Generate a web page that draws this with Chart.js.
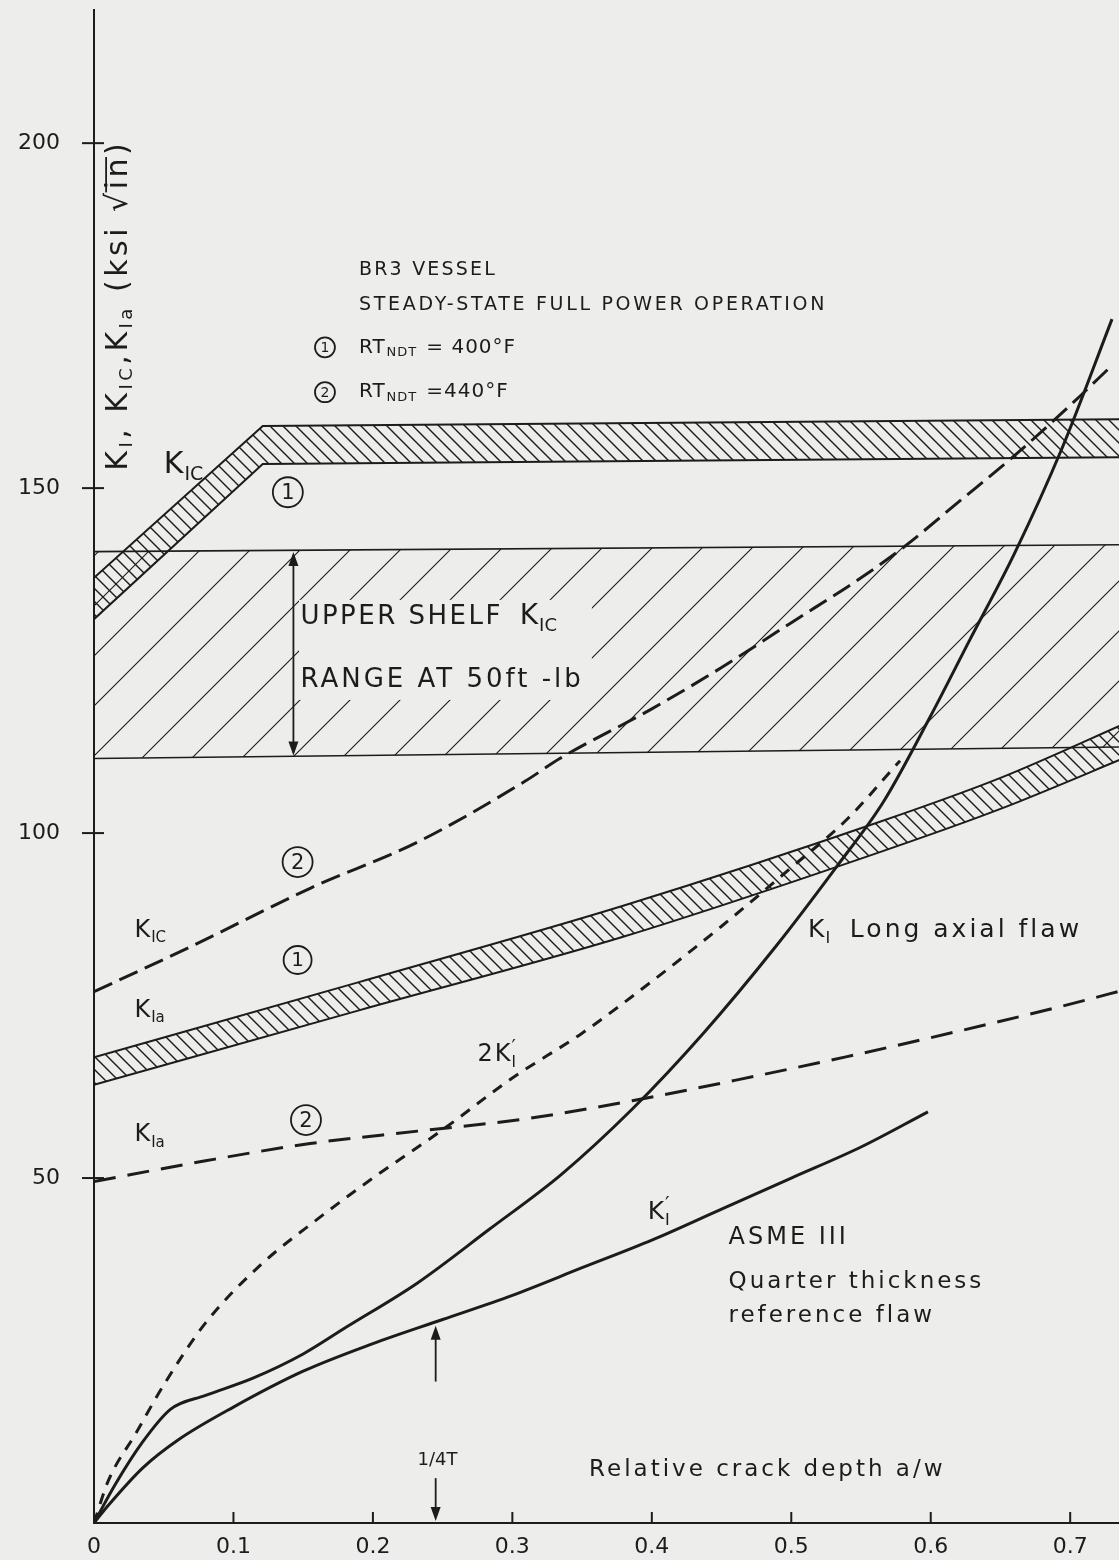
<!DOCTYPE html>
<html>
<head>
<meta charset="utf-8">
<script src="https://cdn.jsdelivr.net/npm/chart.js@4.4.0/dist/chart.umd.min.js"></script>
<style>
  body { margin: 0; background: #ededeb; }
</style>
</head>
<body>
<canvas id="fracture" width="1119" height="1560"></canvas>
<script>
// BR3 vessel, steady-state full power: K vs relative crack depth a/w

const xTicks = [0, 0.1, 0.2, 0.3, 0.4, 0.5, 0.6, 0.7];
const yTicks = [50, 100, 150, 200];

// upper shelf K_IC range at 50 ft-lb
const shelfX = [0, 0.745];
const shelfTop = [140.8, 141.8];
const shelfBottom = [110.8, 112.5];

// K_IC band, (1) RT_NDT = 400 F
const kic1X = [0, 0.121, 0.745];
const kic1Top = [137, 159, 160];
const kic1Bottom = [131, 153.5, 154.5];

// K_Ia band, (1) RT_NDT = 400 F
const kia1X = [0, 0.19, 0.38, 0.563, 0.65, 0.745];
const kia1Top = [67.5, 78.4, 89.5, 101.6, 108, 116.4];
const kia1Bottom = [63.5, 74.3, 85, 97.2, 103.5, 111.4];

// K_IC, (2) RT_NDT = 440 F
const kic2X = [0, 0.07, 0.155, 0.232, 0.309, 0.334, 0.4, 0.45, 0.5, 0.55, 0.581, 0.62, 0.66, 0.7, 0.73];
const kic2Y = [77, 83.6, 92, 98.7, 107.5, 110.8, 118, 124, 130.5, 137, 141.5, 148, 154.7, 162, 167.8];

// K_Ia, (2) RT_NDT = 440 F
const kia2X = [0, 0.08, 0.155, 0.232, 0.31, 0.386, 0.463, 0.54, 0.616, 0.694, 0.745];
const kia2Y = [49.5, 52.5, 55, 56.8, 58.6, 61.2, 64.3, 67.6, 71.1, 74.9, 77.6];

// K_I long axial flaw
const kiX = [0, 0.015, 0.034, 0.055, 0.08, 0.114, 0.15, 0.181, 0.232, 0.283, 0.335, 0.386, 0.437, 0.489, 0.532, 0.566, 0.6, 0.628, 0.66, 0.694, 0.73];
const kiY = [0, 5.5, 11.5, 16.5, 18.5, 21, 24.5, 28.4, 34.8, 42.5, 50.5, 60, 71, 83.6, 95, 104.5, 117, 128, 140.5, 155.7, 174.5];

// K'_I ASME III quarter thickness reference flaw
const kipX = [0, 0.01, 0.035, 0.06, 0.1, 0.15, 0.2, 0.25, 0.3, 0.35, 0.4, 0.45, 0.5, 0.55, 0.598];
const kipY = [0, 2.5, 8, 12, 16.8, 22, 26, 29.5, 33, 37, 41, 45.5, 50, 54.5, 59.6];

// 2K'_I
const twoKipX = [0, 0.01, 0.03, 0.05, 0.08, 0.12, 0.16, 0.2, 0.25, 0.3, 0.35, 0.4, 0.45, 0.5, 0.54, 0.578];
const twoKipY = [0, 6, 13, 20, 29, 37.5, 44, 50, 57, 64.5, 71, 78.5, 86.5, 95, 102, 110.5];

const paper = '#ededeb';
const ink = '#1c1c1c';
const face = '"DejaVu Sans", sans-serif';

function hatch(size, dir, width) {
    const c = document.createElement('canvas');
    c.width = c.height = size;
    const g = c.getContext('2d');
    g.strokeStyle = ink;
    g.lineWidth = width;
    g.beginPath();
    if (dir > 0) {
        g.moveTo(-1, size + 1); g.lineTo(size + 1, -1);
        g.moveTo(-2, 2); g.lineTo(2, -2);
        g.moveTo(size - 2, size + 2); g.lineTo(size + 2, size - 2);
    } else {
        g.moveTo(-1, -1); g.lineTo(size + 1, size + 1);
        g.moveTo(size - 2, -2); g.lineTo(size + 2, 2);
        g.moveTo(-2, size - 2); g.lineTo(2, size + 2);
    }
    g.stroke();
    return g.createPattern(c, 'repeat');
}

function line(xs, ys, extra) {
    return Object.assign({
        data: xs.map((x, i) => ({ x: x, y: ys[i] })),
        borderColor: ink,
        borderWidth: 2,
        pointRadius: 0,
        fill: false,
        tension: 0
    }, extra);
}

const curve = { borderWidth: 3, tension: 0.4, cubicInterpolationMode: 'monotone' };

function at(chart, a, k) {
    return [chart.scales.x.getPixelForValue(a), chart.scales.y.getPixelForValue(k)];
}

function kText(c, x, y, sub, size, lead, prime) {
    c.textAlign = 'left';
    c.textBaseline = 'middle';
    c.font = size + 'px ' + face;
    if (lead) {
        c.fillText(lead, x, y);
        x += c.measureText(lead).width + 2;
    }
    c.fillText('K', x, y);
    x += c.measureText('K').width;
    if (prime) {
        c.font = Math.round(size * 0.8) + 'px ' + face;
        c.fillText('\u2032', x + 1, y - size * 0.3);
    }
    c.font = Math.round(size * 0.64) + 'px ' + face;
    c.fillText(sub, x + 1, y + size * 0.34);
    return x + c.measureText(sub).width + 2;
}

function plain(c, s, x, y, size, spacing) {
    c.textAlign = 'left';
    c.textBaseline = 'middle';
    c.font = size + 'px ' + face;
    c.letterSpacing = (spacing || 0) + 'px';
    c.fillText(s, x, y);
    const w = c.measureText(s).width;
    c.letterSpacing = '0px';
    return x + w;
}

function circled(c, n, x, y, r) {
    c.beginPath();
    c.lineWidth = 1.8;
    c.arc(x, y, r, 0, Math.PI * 2);
    c.stroke();
    c.textAlign = 'center';
    c.textBaseline = 'middle';
    c.font = Math.round(r * 1.4) + 'px ' + face;
    c.fillText(n, x, y + 1);
}

function arrowHead(c, x, y, dir) {
    c.beginPath();
    c.moveTo(x, y);
    c.lineTo(x - 5, y - dir * 14);
    c.lineTo(x + 5, y - dir * 14);
    c.closePath();
    c.fill();
}

function rtLine(c, n, a, k, value) {
    const [x, y] = at(c.chart, a, k);
    circled(c, n, x - 34, y, 10);
    c.textAlign = 'left';
    c.font = '20px ' + face;
    c.letterSpacing = '1px';
    c.fillText('RT', x, y);
    let w = c.measureText('RT').width;
    c.font = '13px ' + face;
    c.fillText('NDT', x + w + 1, y + 5);
    w += c.measureText('NDT').width + 10;
    c.font = '20px ' + face;
    c.fillText(value, x + w, y);
    c.letterSpacing = '0px';
}

const paperPlugin = {
    id: 'paper',
    beforeDraw(chart) {
        const c = chart.ctx;
        c.save();
        c.fillStyle = paper;
        c.fillRect(0, 0, chart.width, chart.height);
        c.restore();
    },
    afterDatasetsDraw(chart) {
        // the shelf hatching is left open around its caption
        const c = chart.ctx;
        const [x0, y0] = at(chart, 0.147, 133.8);
        const [x1, y1] = at(chart, 0.357, 119.3);
        c.save();
        c.fillStyle = paper;
        c.fillRect(x0, y0, x1 - x0, y1 - y0);
        c.restore();
    },
    afterDraw(chart) {
        const c = chart.ctx;
        c.chart = chart;
        const area = chart.chartArea;
        c.save();
        c.strokeStyle = ink;
        c.fillStyle = ink;
        c.lineWidth = 2;

        // tick marks: crosses on y, inward on x
        yTicks.forEach(v => {
            const y = chart.scales.y.getPixelForValue(v);
            c.beginPath(); c.moveTo(area.left - 12, y); c.lineTo(area.left + 10, y); c.stroke();
        });
        xTicks.slice(1).forEach(v => {
            const x = chart.scales.x.getPixelForValue(v);
            c.beginPath(); c.moveTo(x, area.bottom); c.lineTo(x, area.bottom - 11); c.stroke();
        });

        // double arrow across the upper shelf range
        let [ax, top] = at(chart, 0.143, 140.9);
        let bottom = chart.scales.y.getPixelForValue(111.1);
        c.lineWidth = 1.8;
        c.beginPath(); c.moveTo(ax, top + 4); c.lineTo(ax, bottom - 4); c.stroke();
        arrowHead(c, ax, top + 1, -1);
        arrowHead(c, ax, bottom - 1, 1);

        // 1/4T markers
        let [qx, q1] = at(chart, 0.245, 6.5);
        let q0 = chart.scales.y.getPixelForValue(0.3);
        c.beginPath(); c.moveTo(qx, q1); c.lineTo(qx, q0 - 6); c.stroke();
        arrowHead(c, qx, q0, 1);
        let [, u0] = at(chart, 0.245, 20.5);
        let u1 = chart.scales.y.getPixelForValue(28.6);
        c.beginPath(); c.moveTo(qx, u0); c.lineTo(qx, u1 + 6); c.stroke();
        arrowHead(c, qx, u1, -1);

        // header
        let p = at(chart, 0.19, 181.6);
        plain(c, 'BR3 VESSEL', p[0], p[1], 19, 2.2);
        p = at(chart, 0.19, 176.5);
        plain(c, 'STEADY-STATE FULL POWER OPERATION', p[0], p[1], 19, 2.7);
        rtLine(c, '1', 0.19, 170.4, '= 400°F');
        rtLine(c, '2', 0.19, 163.9, '=440°F');

        // band and curve labels
        p = at(chart, 0.05, 153.3);
        kText(c, p[0], p[1], 'IC', 30);
        p = at(chart, 0.139, 149.4);
        circled(c, '1', p[0], p[1], 15);

        p = at(chart, 0.148, 131.3);
        let end = plain(c, 'UPPER SHELF ', p[0], p[1], 26, 2.5);
        kText(c, end + 6, p[1], 'IC', 28);
        p = at(chart, 0.148, 122.2);
        plain(c, 'RANGE AT 50ft -lb', p[0], p[1], 26, 3);

        p = at(chart, 0.146, 95.8);
        circled(c, '2', p[0], p[1], 15);
        p = at(chart, 0.029, 85.9);
        kText(c, p[0], p[1], 'IC', 24);
        p = at(chart, 0.146, 81.6);
        circled(c, '1', p[0], p[1], 14);
        p = at(chart, 0.029, 74.3);
        kText(c, p[0], p[1], 'Ia', 24);

        p = at(chart, 0.275, 67.8);
        kText(c, p[0], p[1], 'I', 24, '2', true);
        p = at(chart, 0.152, 58.4);
        circled(c, '2', p[0], p[1], 15);
        p = at(chart, 0.029, 56.2);
        kText(c, p[0], p[1], 'Ia', 24);

        p = at(chart, 0.512, 85.9);
        kText(c, p[0], p[1], 'I', 25);
        p = at(chart, 0.542, 85.9);
        plain(c, 'Long axial flaw', p[0], p[1], 25, 3);

        p = at(chart, 0.397, 45);
        kText(c, p[0], p[1], 'I', 25, null, true);
        p = at(chart, 0.455, 41.3);
        plain(c, 'ASME III', p[0], p[1], 24, 3);
        p = at(chart, 0.455, 34.9);
        plain(c, 'Quarter thickness', p[0], p[1], 23, 3);
        p = at(chart, 0.455, 30);
        plain(c, 'reference flaw', p[0], p[1], 23, 3);

        p = at(chart, 0.232, 9.1);
        plain(c, '1/4T', p[0], p[1], 18, 0);
        p = at(chart, 0.355, 7.7);
        plain(c, 'Relative crack depth a/w', p[0], p[1], 23, 3);

        // y title, rotated, inside the plot
        p = at(chart, 0.018, 176.5);
        c.translate(p[0], p[1]);
        c.rotate(-Math.PI / 2);
        c.letterSpacing = '3.5px';
        const big = '30px ' + face, sub = '18px ' + face;
        const parts = [['K', big], ['I', sub, 1], [', ', big], ['K', big], ['IC', sub, 1], [',', big],
            ['K', big], ['Ia', sub, 1], [' (ksi ', big], ['\u221A', big], ['in', big, 0, 1], [')', big]];
        let total = 0;
        parts.forEach(pt => { c.font = pt[1]; total += c.measureText(pt[0]).width; });
        let x = -total / 2;
        c.textAlign = 'left';
        c.textBaseline = 'middle';
        parts.forEach(pt => {
            c.font = pt[1];
            const w = c.measureText(pt[0]).width;
            c.fillText(pt[0], x, pt[2] ? 8 : 0);
            if (pt[3]) {
                c.lineWidth = 1.8;
                c.beginPath(); c.moveTo(x - 3, -13); c.lineTo(x + w - 2, -13); c.stroke();
            }
            x += w;
        });
        c.letterSpacing = '0px';
        c.restore();
    }
};

new Chart(document.getElementById('fracture'), {
    type: 'line',
    data: {
        datasets: [
            line(shelfX, shelfTop, { borderWidth: 1.6, fill: '+1', backgroundColor: hatch(50, 1, 1.1) }),
            line(shelfX, shelfBottom, { borderWidth: 1.6 }),
            line(kic1X, kic1Top, { fill: '+1', backgroundColor: hatch(13, -1, 1.4) }),
            line(kic1X, kic1Bottom, {}),
            line(kia1X, kia1Top, { fill: '+1', backgroundColor: hatch(13, -1, 1.4), tension: 0.3, cubicInterpolationMode: 'monotone' }),
            line(kia1X, kia1Bottom, { tension: 0.3, cubicInterpolationMode: 'monotone' }),
            line(kic2X, kic2Y, Object.assign({ borderDash: [20, 8] }, curve)),
            line(kia2X, kia2Y, Object.assign({ borderDash: [22, 12], borderWidth: 3.5 }, curve)),
            line(kiX, kiY, curve),
            line(kipX, kipY, curve),
            line(twoKipX, twoKipY, Object.assign({ borderDash: [11, 9], borderWidth: 3.2 }, curve))
        ]
    },
    options: {
        responsive: false,
        animation: false,
        devicePixelRatio: 1,
        layout: { padding: { top: 10, left: 0, right: 0, bottom: 0 } },
        plugins: { legend: { display: false }, tooltip: { enabled: false } },
        scales: {
            x: {
                type: 'linear',
                min: 0,
                max: 0.735,
                afterFit: s => { s.height = 37; s.paddingLeft = 0; s.paddingRight = 0; },
                afterBuildTicks: s => { s.ticks = xTicks.map(v => ({ value: v })); },
                ticks: {
                    color: ink,
                    padding: 11,
                    font: { family: face, size: 22 },
                    callback: v => v === 0 ? '0' : v.toFixed(1)
                },
                grid: { display: false, drawTicks: false },
                border: { color: ink, width: 2 }
            },
            y: {
                min: 0,
                max: 219.3,
                afterFit: s => { s.width = 94; s.paddingTop = 0; s.paddingBottom = 0; },
                afterBuildTicks: s => { s.ticks = yTicks.map(v => ({ value: v })); },
                ticks: {
                    color: ink,
                    padding: 34,
                    font: { family: face, size: 22 }
                },
                grid: { display: false, drawTicks: false },
                border: { color: ink, width: 2 }
            }
        }
    },
    plugins: [paperPlugin]
});
</script>
</body>
</html>
